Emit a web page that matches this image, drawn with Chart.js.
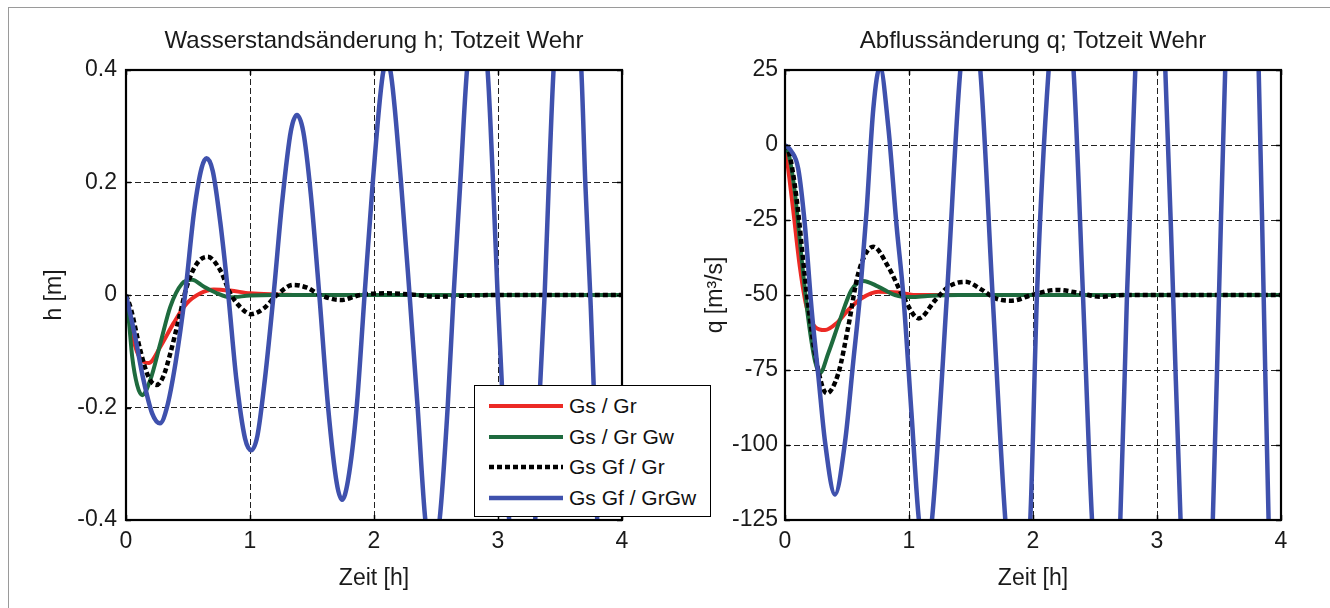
<!DOCTYPE html>
<html><head><meta charset="utf-8">
<script src="https://cdn.jsdelivr.net/npm/chart.js@4.4.1/dist/chart.umd.min.js"></script>
<style>
html,body{margin:0;padding:0;background:#fff;width:1330px;height:608px;overflow:hidden;font-family:"Liberation Sans",Arial,sans-serif;}
#frame{position:absolute;left:8px;top:7px;width:1330px;height:608px;border-left:1px solid #9a9a9a;border-top:1px solid #9a9a9a;}
#c1{position:absolute;left:0;top:0;}
#c2{position:absolute;left:665px;top:0;}
#legend{position:absolute;left:474px;top:385px;width:237px;height:132px;box-sizing:border-box;border:1px solid #000;background:#fff;}
.row{position:absolute;left:0;height:30px;width:235px;}
.row svg{position:absolute;left:13px;top:0;}
.row span{position:absolute;left:94px;top:0;line-height:30px;font-size:21px;color:#111;white-space:nowrap;}
</style>
</head><body>
<div id="frame"></div>
<canvas id="c1" width="665" height="608"></canvas>
<canvas id="c2" width="665" height="608"></canvas>
<div id="legend"></div>
<script>
// ---------- series meta ----------
const seriesNames  = ['Gs / Gr', 'Gs / Gr Gw', 'Gs Gf / Gr', 'Gs Gf / GrGw'];
const seriesColors = ['#ec2a25', '#1e6b3e', '#000000', '#3f51ad'];
const seriesDash   = [[], [], [5, 3], []];
const seriesWidth  = [4, 4, 4.5, 4.5];

// ---------- ticks ----------
const xTicks = [0, 1, 2, 3, 4];
const hTicks = [-0.4, -0.2, 0, 0.2, 0.4];
const qTicks = [-125, -100, -75, -50, -25, 0, 25];

// ---------- left chart: h [m] ----------
const tRedH = [0, 0.03, 0.061, 0.115, 0.183, 0.277, 0.384, 0.49, 0.6, 0.707, 0.84, 1.0, 1.2, 1.5, 2, 3, 4];
const hRed  = [0, -0.04, -0.08, -0.113, -0.121, -0.092, -0.05, -0.015, 0.003, 0.010, 0.008, 0.003, 0.001, 0, 0, 0, 0];

const tGreenH = [0, 0.025, 0.05, 0.09, 0.13, 0.196, 0.277, 0.357, 0.451, 0.532, 0.626, 0.734, 0.84, 1.0, 1.2, 1.5, 2, 3, 4];
const hGreen  = [0, -0.05, -0.11, -0.16, -0.178, -0.151, -0.086, -0.021, 0.020, 0.027, 0.015, 0.003, -0.004, -0.001, 0, 0, 0, 0, 0];

const tBlackH = [0, 0.04, 0.115, 0.18, 0.245, 0.30, 0.357, 0.425, 0.49, 0.572, 0.658, 0.76, 0.84, 0.92, 1.008, 1.11, 1.217, 1.35, 1.46, 1.567, 1.73, 1.89, 2.1, 2.3, 2.5, 2.75, 3, 3.5, 4];
const hBlack  = [0, -0.025, -0.098, -0.145, -0.16, -0.145, -0.104, -0.044, 0.015, 0.056, 0.068, 0.044, 0.003, -0.021, -0.034, -0.024, 0, 0.018, 0.013, 0, -0.009, 0, 0.003, 0.001, -0.003, -0.001, 0, 0, 0];

const tBlueH = [0, 0.07, 0.14, 0.21, 0.274, 0.33, 0.40, 0.476, 0.55, 0.61, 0.65, 0.70, 0.76, 0.825, 0.89, 0.96, 1.01, 1.06, 1.12, 1.19, 1.26, 1.33, 1.379, 1.43, 1.49, 1.559, 1.63, 1.70, 1.742, 1.79, 1.86, 1.924, 1.99, 2.077, 2.104, 2.131, 2.218, 2.287, 2.352, 2.414, 2.47, 2.529, 2.594, 2.642, 2.696, 2.75, 2.833, 2.916, 2.96, 2.997, 3.04, 3.09, 3.195, 3.30, 3.34, 3.376, 3.41, 3.448, 3.56, 3.672, 3.704, 3.744, 3.771, 3.80, 3.93, 4.0];
const hBlue  = [0, -0.07, -0.15, -0.21, -0.228, -0.20, -0.12, 0, 0.15, 0.226, 0.243, 0.22, 0.13, 0, -0.15, -0.255, -0.276, -0.25, -0.15, 0, 0.167, 0.292, 0.32, 0.29, 0.18, 0, -0.2, -0.335, -0.364, -0.33, -0.2, 0, 0.2, 0.4, 0.41, 0.4, 0.2, 0, -0.2, -0.4, -0.46, -0.4, -0.2, 0, 0.2, 0.4, 0.53, 0.4, 0.2, 0, -0.2, -0.4, -0.62, -0.4, -0.16, 0, 0.2, 0.4, 0.71, 0.4, 0.2, 0, -0.157, -0.4, -0.82, -0.65];

// ---------- right chart: q [m3/s] ----------
const tRedQ = [0, 0.02, 0.067, 0.121, 0.174, 0.242, 0.323, 0.416, 0.51, 0.618, 0.752, 0.914, 1.05, 1.3, 2, 3, 4];
const qRed  = [0, -6, -22, -41, -54, -60.6, -61.7, -59.4, -55, -51.1, -48.9, -49.2, -50, -50, -50, -50, -50];

const tGreenQ = [0, 0.03, 0.08, 0.134, 0.188, 0.242, 0.282, 0.349, 0.443, 0.537, 0.631, 0.752, 0.887, 1.02, 1.15, 1.4, 2, 3, 4];
const qGreen  = [0, -3, -16, -38, -58, -72, -76, -69.4, -58.3, -48.3, -45.3, -47.2, -50, -50.7, -50.3, -50, -50, -50, -50];

const tBlackQ = [0, 0.03, 0.094, 0.161, 0.242, 0.336, 0.43, 0.51, 0.591, 0.712, 0.833, 0.954, 1.078, 1.212, 1.32, 1.454, 1.589, 1.696, 1.83, 1.99, 2.19, 2.38, 2.54, 2.74, 3, 3.5, 4];
const qBlack  = [0, -2, -18, -44, -69.4, -82.8, -76.1, -60.6, -42.8, -33.9, -40.6, -50.6, -57.8, -51.7, -47.2, -45.6, -48.3, -51.1, -51.9, -50, -48.3, -49.4, -50.6, -50, -50, -50, -50];

const tBlueQ = [0, 0.05, 0.107, 0.161, 0.215, 0.269, 0.323, 0.403, 0.484, 0.551, 0.605, 0.658, 0.712, 0.766, 0.833, 0.9, 0.954, 1.021, 1.08, 1.14, 1.185, 1.306, 1.414, 1.495, 1.575, 1.674, 1.777, 1.877, 1.978, 2.032, 2.126, 2.227, 2.327, 2.403, 2.476, 2.59, 2.704, 2.758, 2.825, 2.946, 3.067, 3.13, 3.19, 3.32, 3.45, 3.50, 3.55, 3.685, 3.82, 3.86, 3.90, 4.0];
const qBlue  = [0, -2, -8, -27, -55, -77, -99, -116.5, -99, -72, -50, -22, 12, 26, 6, -27, -50, -90, -125, -135, -125, -50, 25, 47, 25, -50, -125, -164, -125, -50, 25, 65, 25, -50, -125, -183, -125, -50, 25, 96, 25, -50, -125, -219, -125, -50, 25, 135, 25, -50, -125, -230];

// ---------- helpers ----------
const FONT = '"Liberation Sans", Arial, sans-serif';
const TXT = '#1a1a1a';
const pts = (t, v) => t.map((x, i) => ({ x, y: v[i] }));

function makeDatasets(pairs) {
  return pairs.map(([t, v], i) => ({
    label: seriesNames[i],
    data: pts(t, v),
    borderColor: seriesColors[i],
    backgroundColor: seriesColors[i],
    borderWidth: seriesWidth[i],
    borderDash: seriesDash[i],
    borderCapStyle: 'butt',
    pointRadius: 0,
    fill: false,
    cubicInterpolationMode: 'monotone',
    order: 4 - i,
    clip: 0
  }));
}

const boxPlugin = {
  id: 'boxPlugin',
  afterDatasetsDraw(chart) {
    const { ctx, chartArea: a, scales } = chart;
    ctx.save();
    ctx.setLineDash([]);
    ctx.strokeStyle = '#000';
    ctx.lineWidth = 1.5;
    const tl = 5;
    ctx.beginPath();
    scales.x.ticks.forEach(t => {
      const px = Math.round(scales.x.getPixelForValue(t.value)) + 0.5;
      ctx.moveTo(px, a.bottom); ctx.lineTo(px, a.bottom - tl);
      ctx.moveTo(px, a.top); ctx.lineTo(px, a.top + tl);
    });
    scales.y.ticks.forEach(t => {
      const py = Math.round(scales.y.getPixelForValue(t.value)) + 0.5;
      ctx.moveTo(a.left, py); ctx.lineTo(a.left + tl, py);
      ctx.moveTo(a.right, py); ctx.lineTo(a.right - tl, py);
    });
    ctx.stroke();
    ctx.lineWidth = 2.2;
    ctx.strokeRect(a.left, a.top, a.right - a.left, a.bottom - a.top);
    ctx.restore();
  }
};

function makeChart(id, cfg) {
  return new Chart(document.getElementById(id), {
    type: 'line',
    data: { datasets: makeDatasets(cfg.pairs) },
    plugins: [boxPlugin],
    options: {
      responsive: false,
      animation: false,
      devicePixelRatio: 1,
      layout: { padding: { left: 0, right: cfg.padRight, top: 0, bottom: 0 } },
      plugins: {
        legend: { display: false },
        tooltip: { enabled: false },
        title: {
          display: true, text: cfg.title, fullSize: false, color: TXT,
          font: { family: FONT, size: 24, weight: 'normal' },
          padding: { top: 27, bottom: 14.2 }
        }
      },
      scales: {
        x: {
          type: 'linear', min: 0, max: 4,
          afterBuildTicks: s => { s.ticks = xTicks.map(v => ({ value: v })); },
          afterFit: s => { s.height = 88; },
          ticks: { color: TXT, font: { family: FONT, size: 23 }, padding: 8, callback: v => String(v), maxRotation: 0 },
          grid: { color: '#222', lineWidth: 1, drawTicks: false },
          border: { display: false, dash: [6, 3] },
          title: { display: true, text: 'Zeit [h]', color: TXT, font: { family: FONT, size: 23 }, padding: { top: 0, bottom: 16 } }
        },
        y: {
          type: 'linear', min: cfg.yMin, max: cfg.yMax,
          afterBuildTicks: s => { s.ticks = cfg.yTicks.map(v => ({ value: v })); },
          afterFit: s => { s.width = cfg.yWidth; },
          ticks: { color: TXT, font: { family: FONT, size: 23 }, padding: cfg.yPad, callback: v => String(v) },
          grid: { color: '#222', lineWidth: 1, drawTicks: false },
          border: { display: false, dash: [6, 3] },
          title: { display: true, text: cfg.yTitle, color: TXT, font: { family: FONT, size: 23 }, padding: { top: cfg.yTitlePad, bottom: 0 } }
        }
      }
    }
  });
}

makeChart('c1', {
  title: 'Wasserstandsänderung h; Totzeit Wehr',
  pairs: [[tRedH, hRed], [tGreenH, hGreen], [tBlackH, hBlack], [tBlueH, hBlue]],
  yMin: -0.4, yMax: 0.4, yTicks: hTicks, yTitle: 'h [m]',
  yWidth: 126, yPad: 9, yTitlePad: 41, padRight: 43
});
makeChart('c2', {
  title: 'Abflussänderung q; Totzeit Wehr',
  pairs: [[tRedQ, qRed], [tGreenQ, qGreen], [tBlackQ, qBlack], [tBlueQ, qBlue]],
  yMin: -125, yMax: 25, yTicks: qTicks, yTitle: 'q [m³/s]',
  yWidth: 120, yPad: 7, yTitlePad: 37, padRight: 49
});

// ---------- legend ----------
const leg = document.getElementById('legend');
seriesNames.forEach((name, i) => {
  const row = document.createElement('div');
  row.className = 'row';
  row.style.top = (5 + i * 30.5) + 'px';
  const dash = seriesDash[i].length ? ` stroke-dasharray="${seriesDash[i].join(',')}"` : '';
  row.innerHTML = `<svg width="76" height="30"><line x1="1" y1="15" x2="75" y2="15" stroke="${seriesColors[i]}" stroke-width="${seriesWidth[i]}"${dash}/></svg><span>${name}</span>`;
  leg.appendChild(row);
});
</script>
</body></html>
